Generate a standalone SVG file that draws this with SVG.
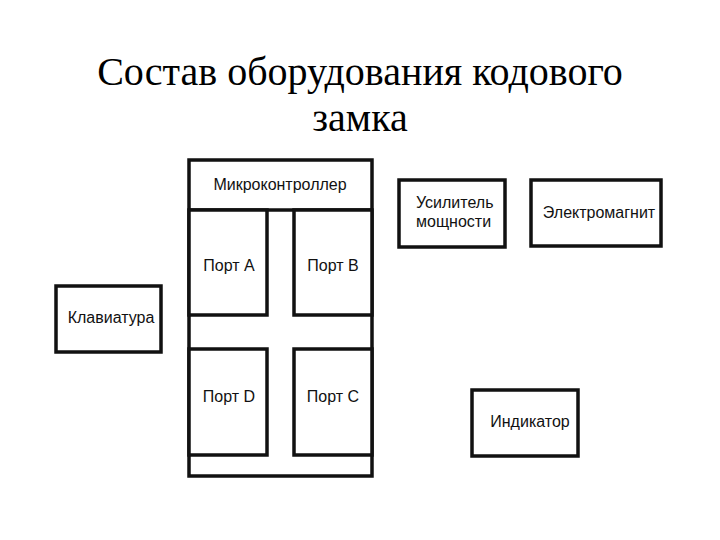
<svg xmlns="http://www.w3.org/2000/svg" width="720" height="540" viewBox="0 0 720 540">
<style>
.box{fill:#fff;stroke:#111;stroke-width:3.5}
.lbl{font-family:"Liberation Sans",Arial,sans-serif;font-size:16px;fill:#111;text-anchor:middle}
.title{font-family:"Liberation Serif","Times New Roman",serif;font-size:40px;fill:#000;text-anchor:middle}
</style>
<rect width="720" height="540" fill="#fff"/>
<g id="title">
<text class="title" x="360" y="85">Состав оборудования кодового</text>
<text class="title" x="360" y="131">замка</text>
</g>
<g id="mcu">
<rect class="box" x="189" y="160" width="183" height="316"/>
<line x1="189" y1="210" x2="372" y2="210" stroke="#111" stroke-width="3.5"/>
<text class="lbl" x="280" y="190">Микроконтроллер</text>
</g>
<g id="portA">
<rect class="box" x="189" y="210" width="78" height="105"/>
<text class="lbl" x="229" y="271">Порт A</text>
</g>
<g id="portB">
<rect class="box" x="294" y="210" width="78" height="105"/>
<text class="lbl" x="333" y="271">Порт B</text>
</g>
<g id="portD">
<rect class="box" x="189" y="349" width="78" height="106"/>
<text class="lbl" x="229" y="402">Порт D</text>
</g>
<g id="portC">
<rect class="box" x="294" y="349" width="78" height="106"/>
<text class="lbl" x="333" y="402">Порт C</text>
</g>
<g id="amp">
<rect class="box" x="399" y="180" width="106" height="67"/>
<text class="lbl" x="416" y="208" style="text-anchor:start">Усилитель</text>
<text class="lbl" x="416" y="227" style="text-anchor:start">мощности</text>
</g>
<g id="magnet">
<rect class="box" x="531" y="180" width="130" height="66"/>
<text class="lbl" x="599" y="218">Электромагнит</text>
</g>
<g id="keyboard">
<rect class="box" x="56" y="286" width="105" height="66"/>
<text class="lbl" x="111" y="323">Клавиатура</text>
</g>
<g id="indicator">
<rect class="box" x="472" y="390" width="106" height="66"/>
<text class="lbl" x="530" y="427">Индикатор</text>
</g>
<g id="connectors"/>
</svg>
